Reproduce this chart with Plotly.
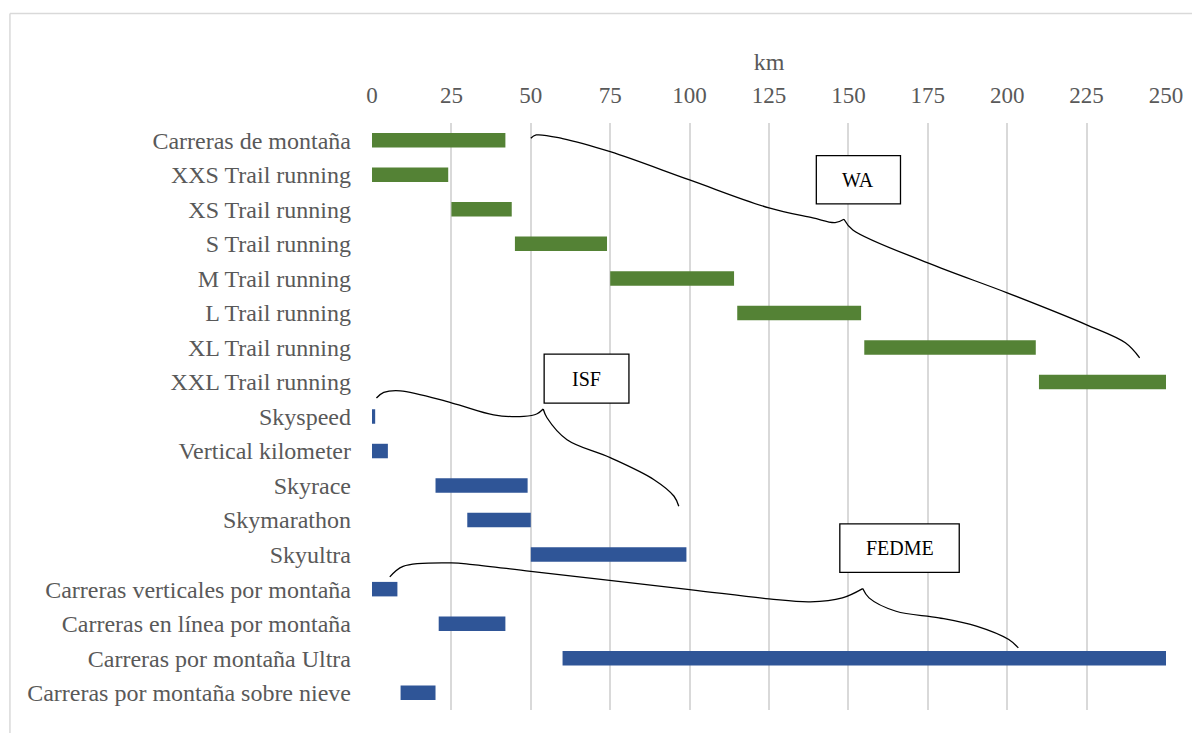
import plotly.graph_objects as go

# ---- data ----
categories = [
    "Carreras de montaña", "XXS Trail running", "XS Trail running", "S Trail running",
    "M Trail running", "L Trail running", "XL Trail running", "XXL Trail running",
    "Skyspeed", "Vertical kilometer", "Skyrace", "Skymarathon", "Skyultra",
    "Carreras verticales por montaña", "Carreras en línea por montaña",
    "Carreras por montaña Ultra", "Carreras por montaña sobre nieve",
]
start_km = [0, 0, 25, 45, 75, 115, 155, 210, 0, 0, 20, 30, 50, 0, 21, 60, 9]
end_km = [42, 24, 44, 74, 114, 154, 209, 250, 1, 5, 49, 50, 99, 8, 42, 250, 20]
group = ["WA"] * 8 + ["other"] * 9
x_ticks = [0, 25, 50, 75, 100, 125, 150, 175, 200, 225, 250]

# brace annotations (km, row index)
wa_left_x = [50, 51.7, 60, 75, 100, 125, 138.8, 145.8, 148.6]
wa_left_y = [-0.057, -0.153, -0.05, 0.33, 1.149, 1.96, 2.249, 2.385, 2.286]
wa_right_x = [148.6, 151.4, 175, 200, 225, 237.2, 241.7]
wa_right_y = [2.286, 2.596, 3.551, 4.419, 5.345, 5.866, 6.30]
isf_left_x = [1.4, 3.7, 8.9, 25, 38.3, 47.8, 52, 53.9]
isf_left_y = [7.466, 7.304, 7.255, 7.602, 7.95, 7.998, 7.92, 7.784]
isf_right_x = [53.9, 55.1, 61.4, 75, 88.8, 95.1, 96.6]
isf_right_y = [7.784, 8.036, 8.672, 9.193, 9.83, 10.31, 10.60]
fed_left_x = [5.6, 9.8, 25, 31.7, 50, 100, 125, 138, 148.1, 154.5]
fed_left_y = [12.645, 12.338, 12.24, 12.289, 12.483, 13.013, 13.282, 13.369, 13.253, 12.984]
fed_right_x = [154.5, 156.5, 165, 178.5, 190.3, 200.5, 203.5]
fed_right_y = [12.984, 13.253, 13.64, 13.83, 14.07, 14.46, 14.70]

box_labels = ["WA", "ISF", "FEDME"]
box_x0 = [139.9, 54.2, 147.3]
box_x1 = [166.4, 80.9, 184.9]
box_y0 = [0.446, 6.193, 11.112]
box_y1 = [1.844, 7.611, 12.512]

GREEN = "#548235"
BLUE = "#2F5597"
FONT = "Liberation Serif"
GREY_TXT = "#595959"

idx = list(range(len(categories)))
fig = go.Figure()
for g, col in [("WA", GREEN), ("other", BLUE)]:
    ys = [i for i in idx if group[i] == g]
    fig.add_trace(go.Bar(
        y=ys,
        x=[end_km[i] - start_km[i] for i in ys],
        base=[start_km[i] for i in ys],
        orientation="h",
        marker=dict(color=col, line=dict(width=0)),
        width=0.42,
        showlegend=False,
        hoverinfo="skip",
    ))

for bx, by in [(wa_left_x, wa_left_y), (wa_right_x, wa_right_y),
               (isf_left_x, isf_left_y), (isf_right_x, isf_right_y),
               (fed_left_x, fed_left_y), (fed_right_x, fed_right_y)]:
    fig.add_trace(go.Scatter(
        x=bx, y=by, mode="lines",
        line=dict(color="black", width=1.3, shape="spline", smoothing=1.0),
        showlegend=False, hoverinfo="skip",
    ))

for lab, x0, x1, y0, y1 in zip(box_labels, box_x0, box_x1, box_y0, box_y1):
    fig.add_shape(type="rect", x0=x0, x1=x1, y0=y0, y1=y1, xref="x", yref="y",
                  line=dict(color="black", width=1.3), fillcolor="white", layer="above")
    fig.add_annotation(x=(x0 + x1) / 2, y=(y0 + y1) / 2, text=lab, showarrow=False,
                       font=dict(family=FONT, size=20, color="black"))

# outer chart border (left and top visible)
fig.add_shape(type="line", xref="paper", yref="paper", x0=-0.456, x1=-0.456, y0=-0.1, y1=1.1866,
              line=dict(color="#d9d9d9", width=1.5))
fig.add_shape(type="line", xref="paper", yref="paper", x0=-0.456, x1=1.1, y0=1.1866, y1=1.1866,
              line=dict(color="#d9d9d9", width=1.5))

fig.update_layout(
    width=1192, height=725,
    margin=dict(l=364, r=34, t=115, b=23),
    paper_bgcolor="white", plot_bgcolor="white",
    barmode="overlay",
    font=dict(family=FONT, color=GREY_TXT, size=24),
    xaxis=dict(
        side="top", range=[0, 250], tickvals=x_ticks,
        showgrid=True, gridcolor="#d9d9d9", gridwidth=1.5,
        zeroline=False, showline=False, ticks="",
        tickfont=dict(family=FONT, size=23, color=GREY_TXT),
        ticklabelstandoff=14,
        title=dict(text="km", font=dict(family=FONT, size=24, color=GREY_TXT), standoff=6),
    ),
    yaxis=dict(
        range=[16.5, -0.5], tickvals=idx, ticktext=categories,
        showgrid=False, zeroline=False, showline=False, ticks="",
        tickfont=dict(family=FONT, size=24, color=GREY_TXT),
        ticklabelstandoff=20,
    ),
)
fig.write_html("out.html")
